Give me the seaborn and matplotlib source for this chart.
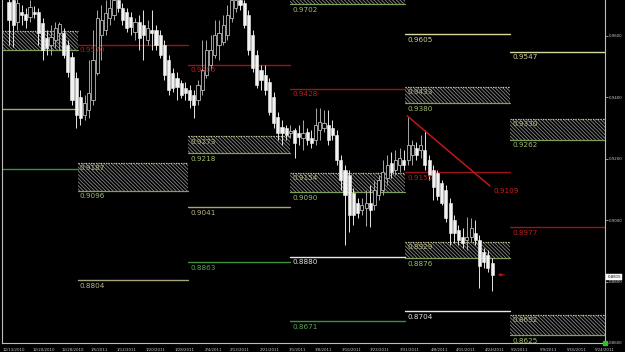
import matplotlib
matplotlib.use("Agg")
import matplotlib.pyplot as plt
import matplotlib.transforms as mtransforms
import seaborn as sns

# ---------------- data (daily candles, index 0..115) ----------------
opens = [.9709, .9716, .9645, .9677, .9671, .9661, .9677, .9677, .9641, .9593,
         .9570, .9586, .9609, .9609, .9570, .9531, .9463, .9401, .9342, .9359,
         .9391, .9479, .9602, .9619, .9658, .9667, .9716, .9690, .9677, .9661,
         .9612, .9645, .9635, .9586, .9619, .9619, .9602, .9570, .9521, .9479,
         .9463, .9446, .9430, .9424, .9407, .9391, .9424, .9472, .9505, .9537,
         .9570, .9580, .9602, .9658, .9690, .9716, .9706, .9667, .9602, .9537,
         .9489, .9472, .9450, .9401, .9336, .9303, .9300, .9284, .9294, .9284,
         .9268, .9287, .9268, .9261, .9294, .9300, .9310, .9300, .9277, .9196,
         .9164, .9147, .9089, .9056, .9034, .9040, .9056, .9050, .9082, .9099,
         .9138, .9186, .9164, .9180, .9196, .9196, .9212, .9235, .9229, .9229,
         .9196, .9164, .9154, .9121, .9099, .9056, .9001, .8969, .8946, .8936,
         .8946, .8959, .8936, .8897, .8887, .8861]
highs = [.9732, .9742, .9732, .9700, .9690, .9716, .9697, .9690, .9658, .9619,
         .9635, .9645, .9645, .9625, .9586, .9547, .9482, .9424, .9407, .9521,
         .9619, .9684, .9700, .9716, .9732, .9742, .9732, .9706, .9690, .9677,
         .9658, .9667, .9684, .9651, .9684, .9635, .9619, .9586, .9537, .9495,
         .9482, .9456, .9450, .9440, .9424, .9456, .9586, .9586, .9602, .9651,
         .9651, .9667, .9700, .9742, .9749, .9742, .9716, .9684, .9619, .9554,
         .9505, .9505, .9463, .9417, .9352, .9326, .9310, .9310, .9300, .9310,
         .9326, .9300, .9294, .9365, .9365, .9359, .9359, .9326, .9294, .9212,
         .9180, .9164, .9105, .9073, .9073, .9099, .9115, .9131, .9147, .9196,
         .9212, .9222, .9229, .9235, .9229, .9339, .9261, .9255, .9277, .9294,
         .9212, .9180, .9164, .9131, .9115, .9073, .9017, .8985, .8975, .9011,
         .9008, .9001, .8952, .8910, .8904, .8877]
lows = [.9570, .9563, .9619, .9635, .9625, .9645, .9658, .9570, .9521, .9537,
        .9537, .9560, .9554, .9528, .9466, .9375, .9300, .9310, .9326, .9333,
        .9375, .9472, .9521, .9602, .9635, .9651, .9677, .9635, .9612, .9602,
        .9586, .9554, .9521, .9570, .9554, .9554, .9528, .9456, .9407, .9417,
        .9391, .9398, .9391, .9365, .9333, .9375, .9407, .9463, .9489, .9528,
        .9521, .9570, .9586, .9645, .9677, .9684, .9625, .9537, .9482, .9430,
        .9424, .9407, .9342, .9300, .9261, .9245, .9261, .9268, .9202, .9245,
        .9229, .9245, .9235, .9245, .9261, .9287, .9245, .9261, .9180, .9099,
        .8920, .8962, .8985, .9008, .9017, .8981, .8978, .9034, .9066, .9082,
        .9115, .9138, .9147, .9157, .9164, .9180, .9180, .9196, .9202, .9164,
        .9131, .9066, .9066, .9050, .8994, .8920, .8926, .8920, .8910, .8904,
        .8929, .8920, .8780, .8845, .8832, .8770]
closes = [.9651, .9635, .9706, .9667, .9651, .9693, .9671, .9609, .9554, .9560,
          .9596, .9625, .9638, .9537, .9482, .9391, .9342, .9333, .9381, .9414,
          .9521, .9658, .9651, .9674, .9690, .9716, .9690, .9651, .9625, .9628,
          .9645, .9593, .9602, .9625, .9609, .9570, .9537, .9472, .9424, .9430,
          .9433, .9407, .9414, .9391, .9375, .9440, .9489, .9554, .9554, .9602,
          .9609, .9635, .9667, .9716, .9716, .9700, .9635, .9554, .9495, .9440,
          .9456, .9424, .9352, .9316, .9284, .9284, .9277, .9290, .9251, .9271,
          .9284, .9261, .9251, .9310, .9320, .9316, .9261, .9277, .9196, .9131,
          .9082, .9017, .9017, .9024, .9050, .9056, .9034, .9099, .9131, .9157,
          .9180, .9157, .9196, .9202, .9180, .9245, .9245, .9212, .9245, .9180,
          .9147, .9108, .9079, .9056, .9008, .8959, .8959, .8936, .8926, .8946,
          .8975, .8936, .8851, .8864, .8845, .8822]
current_price = 0.8815

date_labels = ["12/13/2010", "12/20/2010", "12/28/2010", "1/5/2011", "1/12/2011",
               "1/20/2011", "1/28/2011", "2/4/2011", "2/13/2011", "2/21/2011",
               "3/1/2011", "3/8/2011", "3/16/2011", "3/23/2011", "3/31/2011",
               "4/8/2011", "4/15/2011", "4/24/2011", "5/2/2011", "5/9/2011",
               "5/16/2011", "5/24/2011"]
date_pos = [-1.6, 5.5, 12.4, 19.3, 25.7, 32.6, 39.5, 46.7, 52.6, 59.8, 66.7,
            72.9, 79.3, 86.0, 93.1, 100.5, 106.4, 113.3, 119.5, 126.4, 132.9, 139.5]

price_ticks = [0.86, 0.88, 0.90, 0.92, 0.94, 0.96]

# monthly pivot periods (candle-index edges)
period_edges = [-1.7, 16.4, 42.6, 66.9, 94.3, 119.3, 141.9]

# zones: (period, top, bottom, top label, bottom label)
zone_period = [0, 1, 2, 3, 3, 4, 4, 5, 5]
zone_top = [0.9615, 0.9186, 0.9273, 0.9730, 0.9154, 0.9433, 0.8929, 0.9330, 0.8692]
zone_bottom = [0.9553, 0.9096, 0.9218, 0.9702, 0.9090, 0.9380, 0.8876, 0.9262, 0.8625]
zone_top_label = ["", "0.9187", "0.9273", "", "0.9154", "0.9433", "0.8929", "0.9330", "0.8692"]
zone_bottom_label = ["", "0.9096", "0.9218", "0.9702", "0.9090", "0.9380", "0.8876", "0.9262", "0.8625"]

# single lines: (period, price, kind, label)
line_period = [0, 0, 1, 1, 2, 2, 2, 3, 3, 3, 4, 4, 4, 5, 5]
line_price = [0.9361, 0.9166, 0.9570, 0.8804, 0.9506, 0.9041, 0.8863, 0.9428,
              0.8880, 0.8671, 0.9605, 0.9155, 0.8704, 0.9547, 0.8977]
line_kind = ["tan", "green", "red", "tan", "red", "tan", "green", "red",
             "white", "green", "yellow", "red", "white", "yellow", "red"]
line_label = ["", "", "0.9570", "0.8804", "0.9506", "0.9041", "0.8863", "0.9428",
              "0.8880", "0.8671", "0.9605", "0.9155", "0.8704", "0.9547", "0.8977"]

trend_x = [94.8, 114.5]
trend_y = [0.9339, 0.9111]
trend_label = "0.9109"

# ---------------- style ----------------
sns.set_theme(style="dark", rc={
    "axes.facecolor": "black", "figure.facecolor": "black",
    "axes.edgecolor": "#b0b0b0", "axes.grid": False,
    "hatch.linewidth": 0.6,
})
plt.rcParams["font.family"] = ["DejaVu Sans"]

line_colors = {"red": "#9c1414", "tan": "#a8a47a", "green": "#3f8f3f",
               "white": "#e8e8e8", "yellow": "#d8d8a0"}
label_colors = {"red": "#b42020", "tan": "#b8b488", "green": "#5aa55a",
                "white": "#e0e0e0", "yellow": "#d0d098"}

fig = plt.figure(figsize=(6.25, 3.52), dpi=100)
ax = fig.add_axes([2 / 625, 9 / 352, 603 / 625, 343 / 352])
ax.set_facecolor("black")
ax.set_xlim(-1.667, 141.9)
ax.set_ylim(0.86013, 0.9716)

LFS = 5.2

# zones
for p, t, b, tl, bl in zip(zone_period, zone_top, zone_bottom, zone_top_label, zone_bottom_label):
    x0, x1 = period_edges[p], period_edges[p + 1]
    ax.fill_between([x0, x1], [b, b], [t, t], facecolor="black", edgecolor="#8a8a8a",
                    hatch="\\" * 9, linewidth=0, zorder=1)
    ax.plot([x0, x1], [t, t], color="#c8c890", lw=0.9, ls=(0, (1, 1)), zorder=2)
    ax.plot([x0, x1], [b, b], color="#7ea05a", lw=0.9, zorder=2)
    if tl:
        ax.annotate(tl, (x0, t), xytext=(1.5, -1.8), textcoords="offset points",
                    ha="left", va="top", fontsize=LFS, color="#b8b880", zorder=6)
    if bl:
        ax.annotate(bl, (x0, b), xytext=(1.5, -1.8), textcoords="offset points",
                    ha="left", va="top", fontsize=LFS, color="#a0bc70", zorder=6)

# lines
for p, v, k, lab in zip(line_period, line_price, line_kind, line_label):
    x0, x1 = period_edges[p], period_edges[p + 1]
    ax.plot([x0, x1], [v, v], color=line_colors[k], lw=1.0, zorder=2)
    if lab:
        ax.annotate(lab, (x0, v), xytext=(1.5, -1.8), textcoords="offset points",
                    ha="left", va="top", fontsize=LFS, color=label_colors[k], zorder=6)

# candles
for i, (o, h, l, c) in enumerate(zip(opens, highs, lows, closes)):
    bear = c < o
    wick_col = "#e6e6e6" if bear else "#a8a8a8"
    ax.vlines(i, l, h, color=wick_col, lw=0.7, zorder=3)
    lo_b, hi_b = min(o, c), max(o, c)
    hgt = max(hi_b - lo_b, 0.0003)
    if bear:
        ax.bar(i, hgt, bottom=lo_b, width=0.72, color="#f2f2f2", edgecolor="#f2f2f2",
               linewidth=0.4, zorder=4)
    else:
        ax.bar(i, hgt, bottom=lo_b, width=0.72, color="black", edgecolor="#b8b8b8",
               linewidth=0.6, zorder=4)

# trend line
ax.plot(trend_x, trend_y, color="#c01818", lw=1.1, zorder=5)
ax.annotate(trend_label, (trend_x[1], trend_y[1]), xytext=(2.5, -1.5),
            textcoords="offset points", ha="left", va="top", fontsize=LFS,
            color="#c82020", zorder=6)

# current bar arrow
ax.annotate("", xy=(115.7, closes[-1]), xytext=(118.6, closes[-1]),
            arrowprops=dict(arrowstyle="-|>", color="#b01818", lw=0.8, mutation_scale=4),
            zorder=6)

# axes / spines
ax.spines["top"].set_visible(False)
for s in ["left", "right", "bottom"]:
    ax.spines[s].set_color("#bdbdbd")
    ax.spines[s].set_linewidth(0.8)

ax.yaxis.tick_right()
ax.set_yticks(price_ticks)
ax.set_yticklabels([f"{v:.4f}" for v in price_ticks])
ax.tick_params(axis="y", colors="#c8c8c8", labelsize=2.8, length=2, width=0.5, pad=1)
ax.set_xticks(date_pos)
ax.set_xticklabels(date_labels, ha="left")
ax.tick_params(axis="x", colors="#c8c8c8", labelsize=2.8, length=2, width=0.5, pad=1.5)
for lab in ax.get_xticklabels():
    lab.set_horizontalalignment("left")

# price tag on right axis
trans = mtransforms.blended_transform_factory(ax.transAxes, ax.transData)
ax.text(1.004, current_price, f"{current_price:.4f}", transform=trans, fontsize=2.8,
        color="black", ha="left", va="center", zorder=7, clip_on=False,
        bbox=dict(boxstyle="square,pad=0.25", fc="white", ec="white", lw=0.3))

# small green marker at corner
ax.plot([1.0], [0.0], marker="s", ms=3, color="#30c030", transform=ax.transAxes,
        clip_on=False, zorder=7)

fig.savefig("out.png", dpi=100, facecolor="black")
